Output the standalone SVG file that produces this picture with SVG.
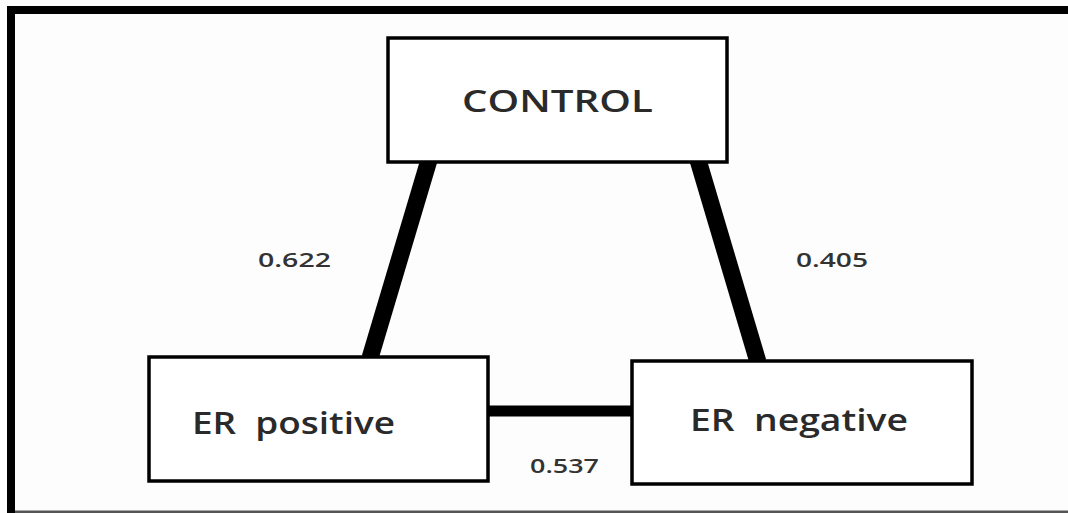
<svg xmlns="http://www.w3.org/2000/svg" width="1068" height="513" viewBox="0 0 1068 513">
<style>
.box{fill:#fff;stroke:#000;stroke-width:3.5}
.lbl{font-family:"Open Sans","Liberation Sans",sans-serif;font-weight:600;fill:#2a2a2a;white-space:pre}
.num{font-family:"Open Sans","Liberation Sans",sans-serif;font-weight:600;fill:#333;font-size:20px}
.edge{stroke:#000;stroke-linecap:butt}
</style>
<rect x="0" y="0" width="1068" height="513" fill="#fdfdfd"/>
<g id="frame">
<rect x="7" y="6" width="1061" height="8" fill="#000"/>
<rect x="7" y="6" width="8" height="507" fill="#000"/>
<rect x="15" y="510.5" width="1053" height="2.5" fill="#555"/>
</g>
<g id="connectors">
<line class="edge" x1="429" y1="160" x2="370" y2="358" stroke-width="17"/>
<line class="edge" x1="698" y1="160" x2="758" y2="362" stroke-width="17"/>
<line class="edge" x1="488" y1="411" x2="632" y2="411" stroke-width="11"/>
<text class="num" x="258" y="267" textLength="73" lengthAdjust="spacingAndGlyphs">0.622</text>
<text class="num" x="796" y="267" textLength="72" lengthAdjust="spacingAndGlyphs">0.405</text>
<text class="num" x="530" y="473" textLength="69" lengthAdjust="spacingAndGlyphs">0.537</text>
</g>
<g id="node-control">
<rect class="box" x="388" y="38" width="339" height="124"/>
<text class="lbl" x="462" y="112" font-size="31" textLength="191" lengthAdjust="spacingAndGlyphs">CONTROL</text>
</g>
<g id="node-er-positive">
<rect class="box" x="149" y="357" width="339" height="124"/>
<text class="lbl" x="192" y="434" font-size="30" textLength="203" lengthAdjust="spacingAndGlyphs">ER  positive</text>
</g>
<g id="node-er-negative">
<rect class="box" x="632" y="361" width="340" height="123"/>
<text class="lbl" x="690" y="431" font-size="30" textLength="218" lengthAdjust="spacingAndGlyphs">ER  negative</text>
</g>
</svg>
